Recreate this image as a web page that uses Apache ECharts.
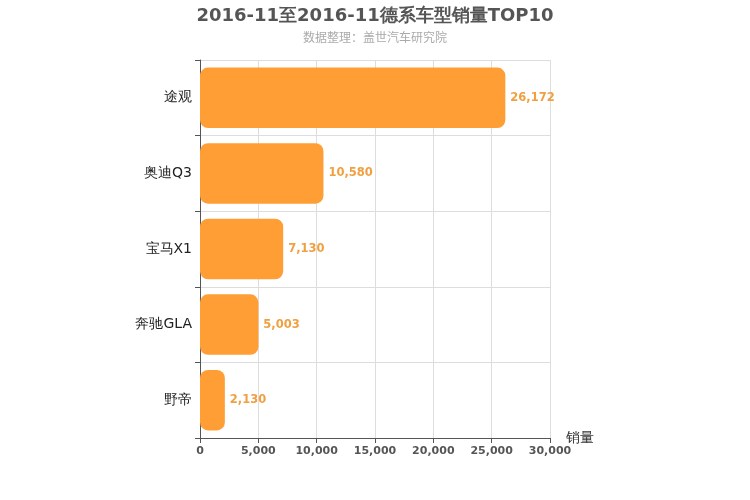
<!DOCTYPE html>
<html><head><meta charset="utf-8">
<script src="https://cdn.jsdelivr.net/npm/echarts@6/dist/echarts.min.js"></script>
<style>html,body{margin:0;padding:0}#c{width:750px;height:500px}</style>
</head><body><div id="c"></div>
<script>
const categories = ['途观','奥迪Q3','宝马X1','奔驰GLA','野帝'];
const sales = [26172,10580,7130,5003,2130];
const chart = echarts.init(document.getElementById('c'));
chart.setOption({
  backgroundColor:'#fff',
  textStyle:{fontFamily:'DejaVu Sans'},
  title:{text:'2016-11至2016-11德系车型销量TOP10',subtext:'数据整理：盖世汽车研究院',left:'center',top:2,
    textStyle:{fontSize:18,fontWeight:'bold',color:'#555',fontFamily:'DejaVu Sans'},
    subtextStyle:{fontSize:12,color:'#aaa',fontFamily:'Noto Sans CJK SC'},itemGap:6},
  grid:{left:200,right:200,top:60,bottom:62,containLabel:false},
  xAxis:{type:'value',min:0,max:30000,interval:5000,name:'销量',nameGap:16,
    nameTextStyle:{fontSize:14,color:'#333',verticalAlign:'middle',padding:[0,0,0,0]},
    axisLine:{show:true,lineStyle:{color:'#555'}},axisTick:{show:true,lineStyle:{color:'#555'}},
    axisLabel:{color:'#555',fontWeight:'bold',fontSize:11,fontFamily:'DejaVu Sans'},
    splitLine:{show:true,lineStyle:{color:'#ddd'}}},
  yAxis:{type:'category',data:categories,inverse:true,
    axisLine:{show:true,lineStyle:{color:'#555'}},axisTick:{show:true,lineStyle:{color:'#555'}},
    axisLabel:{color:'#222',fontSize:14,fontFamily:'DejaVu Sans'},
    splitLine:{show:true,lineStyle:{color:'#ddd'}}},
  series:[{type:'bar',data:sales,barWidth:'80%',
    itemStyle:{color:'#ff9e35',borderRadius:8},
    label:{show:true,position:'right',color:'#f0a040',fontWeight:'bold',fontSize:11.5,fontFamily:'DejaVu Sans',
      formatter:p=>p.value.toLocaleString('en-US')}}]
});
</script></body></html>
